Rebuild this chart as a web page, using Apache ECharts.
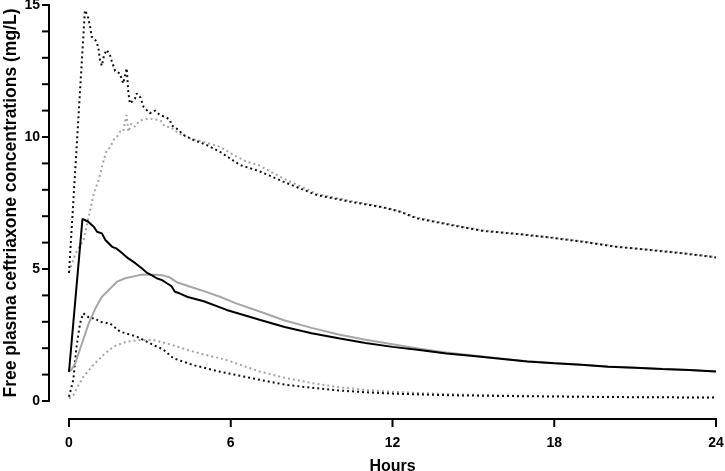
<!DOCTYPE html>
<html>
<head>
<meta charset="utf-8">
<script src="https://cdn.jsdelivr.net/npm/echarts@6/dist/echarts.min.js"></script>
<style>html,body{margin:0;padding:0;background:#fff}#c{width:725px;height:471px}</style>
</head>
<body>
<div id="c"></div>
<script>
// Tick values
const xTicks = [0, 6, 12, 18, 24];
const yTicks = [0, 5, 10, 15];
const yMinorTicks = [0, 1, 2, 3, 4, 5, 6, 7, 8, 9, 10, 11, 12, 13, 14, 15];

// Black solid (median, regimen A)
const blackMedH = [0, 0.5, 0.54, 0.7, 0.92, 1.04, 1.22, 1.35, 1.6, 1.75, 1.9, 2.2, 2.46, 2.71, 2.9, 3.1, 3.25, 3.45, 3.63, 3.8, 3.93, 4.1, 4.37, 5.0, 5.85, 7.1, 8, 9, 10, 11, 12, 13, 14, 15, 16, 17, 18, 19, 20, 21, 22, 23, 24];
const blackMedV = [1.1, 6.9, 6.92, 6.8, 6.6, 6.41, 6.35, 6.1, 5.84, 5.78, 5.66, 5.4, 5.22, 5.02, 4.85, 4.75, 4.65, 4.58, 4.46, 4.35, 4.14, 4.08, 3.95, 3.78, 3.45, 3.07, 2.8, 2.57, 2.38, 2.2, 2.05, 1.93, 1.8, 1.7, 1.6, 1.5, 1.43, 1.37, 1.3, 1.26, 1.21, 1.17, 1.12];

// Gray solid (median, regimen B)
const grayMedH = [0, 0.1, 0.23, 0.48, 0.73, 0.98, 1.22, 1.47, 1.78, 2.09, 2.4, 2.71, 3.0, 3.25, 3.5, 3.7, 4.0, 4.5, 5.0, 5.6, 6.2, 7.1, 8, 9, 10, 11, 12, 13, 14, 15, 16, 17, 18, 19, 20, 21, 22, 23, 24];
const grayMedV = [1.1, 1.2, 1.42, 2.18, 2.94, 3.51, 3.95, 4.2, 4.52, 4.65, 4.72, 4.79, 4.78, 4.78, 4.75, 4.7, 4.5, 4.33, 4.16, 3.95, 3.7, 3.38, 3.05, 2.77, 2.52, 2.32, 2.15, 1.98, 1.84, 1.72, 1.61, 1.51, 1.44, 1.37, 1.31, 1.26, 1.21, 1.17, 1.12];

// Black dotted upper percentile
const blackHiH = [0, 0.59, 0.69, 0.78, 0.84, 0.95, 1.03, 1.1, 1.15, 1.22, 1.3, 1.4, 1.46, 1.52, 1.58, 1.71, 1.89, 2.01, 2.08, 2.14, 2.2, 2.26, 2.35, 2.45, 2.51, 2.65, 2.76, 2.88, 3.0, 3.19, 3.38, 3.6, 3.75, 3.8, 4.06, 4.24, 4.61, 5.1, 5.6, 5.97, 6.34, 7.02, 7.95, 9.19, 10.43, 11.66, 12.28, 12.9, 14.14, 15.37, 16.6, 17.85, 19.08, 20.3, 21.56, 22.8, 24];
const blackHiV = [4.85, 14.8, 14.6, 14.2, 13.8, 13.7, 13.6, 13.3, 12.9, 12.7, 13.1, 13.3, 13.36, 13.1, 12.9, 12.5, 12.4, 12.03, 12.1, 12.6, 11.7, 11.27, 11.35, 11.46, 11.65, 11.5, 11.15, 11.02, 10.9, 11.0, 10.83, 10.75, 10.64, 10.45, 10.27, 10.08, 9.89, 9.7, 9.44, 9.19, 8.94, 8.72, 8.31, 7.8, 7.55, 7.33, 7.17, 6.92, 6.67, 6.44, 6.33, 6.19, 6.03, 5.84, 5.72, 5.59, 5.44];

// Gray dotted upper percentile
const grayHiH = [0, 0.25, 0.54, 0.73, 0.92, 1.1, 1.29, 1.4, 1.52, 1.65, 1.78, 1.89, 2.01, 2.08, 2.14, 2.2, 2.3, 2.45, 2.6, 2.7, 3.0, 3.38, 3.56, 3.75, 4.06, 4.49, 4.98, 5.6, 6.1, 6.6, 7.02, 7.95, 9.19, 10.43, 11.66, 12.28, 12.9, 14.14, 15.37, 16.6, 17.85, 19.08, 20.3, 21.56, 22.8, 24];
const grayHiV = [4.9, 5.6, 6.1, 6.98, 7.86, 8.37, 9.13, 9.5, 9.6, 9.89, 10.0, 10.2, 10.2, 10.6, 10.83, 10.2, 10.5, 10.39, 10.6, 10.64, 10.7, 10.64, 10.39, 10.39, 10.14, 9.95, 9.82, 9.63, 9.32, 9.06, 8.94, 8.43, 7.85, 7.58, 7.35, 7.18, 6.95, 6.69, 6.46, 6.34, 6.2, 6.04, 5.85, 5.73, 5.6, 5.45];

// Black dotted lower percentile
const blackLoH = [0, 0.16, 0.28, 0.41, 0.53, 0.78, 0.96, 1.15, 1.52, 1.89, 2.51, 3.13, 3.5, 3.87, 4.61, 5.6, 7.09, 8, 9, 10, 11, 12, 13, 14, 16, 18, 20, 22, 24];
const blackLoV = [0.16, 0.8, 2.06, 2.94, 3.32, 3.13, 3.13, 3.0, 2.94, 2.63, 2.44, 2.12, 1.95, 1.62, 1.36, 1.11, 0.8, 0.62, 0.5, 0.4, 0.33, 0.28, 0.25, 0.22, 0.19, 0.17, 0.15, 0.14, 0.13];

// Gray dotted lower percentile
const grayLoH = [0, 0.16, 0.53, 0.9, 1.27, 1.65, 2.14, 2.63, 3.13, 3.63, 4.61, 5.85, 7.09, 8, 9, 10, 11, 12, 13, 14, 16, 18, 20, 22, 24];
const grayLoV = [0.1, 0.23, 0.92, 1.36, 1.74, 2.06, 2.25, 2.31, 2.31, 2.18, 1.87, 1.55, 1.11, 0.88, 0.68, 0.52, 0.42, 0.35, 0.3, 0.26, 0.21, 0.18, 0.16, 0.14, 0.13];

const pairs = (h, v) => h.map((x, i) => [x, v[i]]);
const FONT = '"Liberation Sans", Arial, sans-serif';
const XMIN = xTicks[0], XMAX = xTicks[xTicks.length - 1];
const YMIN = yTicks[0], YMAX = yTicks[yTicks.length - 1];

function line(name, h, v, color, dotted) {
  return {
    name, type: 'line', data: pairs(h, v), showSymbol: false, symbol: 'none',
    xAxisIndex: 0, yAxisIndex: 0, silent: true,
    lineStyle: dotted ? { color, width: 2, type: [2, 3] } : { color, width: 2 }
  };
}
// axis strokes drawn through the strip grids' own scales
function stroke(axisIdx, data) {
  return {
    type: 'line', data, xAxisIndex: axisIdx, yAxisIndex: axisIdx, showSymbol: false, symbol: 'none',
    clip: false, silent: true, z: 5, lineStyle: { color: '#000', width: 2, cap: 'square' }
  };
}

const axisSeries = [];
// x axis line (top edge of strip 1) and its ticks
axisSeries.push(stroke(1, [[XMIN, 1], [XMAX, 1]]));
xTicks.forEach(t => axisSeries.push(stroke(1, [[t, 1], [t, 0]])));
// y axis line (right edge of strip 2) and its ticks
axisSeries.push(stroke(2, [[1, YMIN], [1, YMAX]]));
yMinorTicks.forEach(t => axisSeries.push(stroke(2, [[0, t], [1, t]])));

const off = { axisLine: { show: false }, axisTick: { show: false }, splitLine: { show: false } };

const chart = echarts.init(document.getElementById('c'), null, { renderer: 'canvas' });
chart.setOption({
  animation: false,
  backgroundColor: '#fff',
  tooltip: { show: false },
  grid: [
    { left: 69, right: 9, top: 5, bottom: 70, outerBoundsMode: 'none' },
    { left: 69, right: 9, top: 419, bottom: 45, outerBoundsMode: 'none' },
    { left: 43, width: 6, top: 5, bottom: 70, outerBoundsMode: 'none' }
  ],
  xAxis: [
    { gridIndex: 0, type: 'value', min: XMIN, max: XMAX, show: false },
    Object.assign({}, off, {
      gridIndex: 1, type: 'value', min: XMIN, max: XMAX, interval: 6, position: 'bottom',
      name: 'Hours', nameLocation: 'middle', nameGap: 33,
      nameTextStyle: { fontFamily: FONT, fontWeight: 'bold', fontSize: 16, color: '#000' },
      axisLabel: { show: true, margin: 10, fontFamily: FONT, fontWeight: 'bold', fontSize: 14, color: '#000' }
    }),
    { gridIndex: 2, type: 'value', min: 0, max: 1, show: false }
  ],
  yAxis: [
    { gridIndex: 0, type: 'value', min: YMIN, max: YMAX, show: false },
    { gridIndex: 1, type: 'value', min: 0, max: 1, show: false },
    Object.assign({}, off, {
      gridIndex: 2, type: 'value', min: YMIN, max: YMAX, interval: 5, position: 'left',
      name: 'Free plasma ceftriaxone concentrations (mg/L)', nameLocation: 'middle', nameGap: 22,
      nameTextStyle: { fontFamily: FONT, fontWeight: 'bold', fontSize: 17.5, color: '#000' },
      axisLabel: {
        show: true, margin: 3, fontFamily: FONT, fontWeight: 'bold', fontSize: 14, color: '#000',
        showMinLabel: true, showMaxLabel: true
      }
    })
  ],
  series: [
    line('grayLo', grayLoH, grayLoV, '#a3a3a3', true),
    line('grayHi', grayHiH, grayHiV, '#a3a3a3', true),
    line('blackLo', blackLoH, blackLoV, '#111', true),
    line('blackHi', blackHiH, blackHiV, '#111', true),
    line('grayMed', grayMedH, grayMedV, '#a6a6a6', false),
    line('blackMed', blackMedH, blackMedV, '#000', false)
  ].concat(axisSeries)
});
</script>
</body>
</html>
